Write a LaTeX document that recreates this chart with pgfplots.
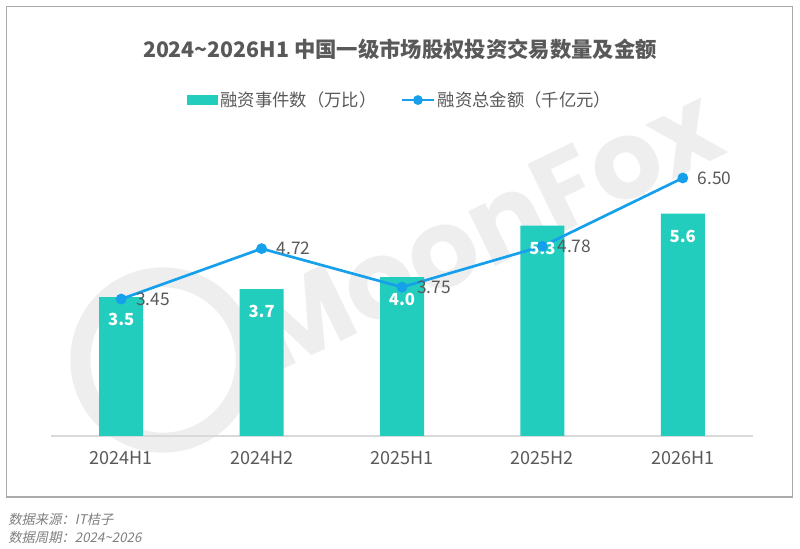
\documentclass[border=0pt]{standalone}
\usepackage{fontspec}
\setmainfont{Noto Sans CJK SC}
\newfontfamily\srcfont{Noto Sans CJK SC}[FakeSlant=0.2]
\newfontfamily\wmfont{Poppins}
\usepackage{pgfplots}
\pgfplotsset{compat=1.18}
\definecolor{barc}{RGB}{34,205,190}
\definecolor{linec}{RGB}{22,160,236}
\definecolor{txt}{RGB}{89,89,89}
\definecolor{axc}{RGB}{217,217,217}
\definecolor{framec}{RGB}{170,170,170}
\definecolor{srcc}{RGB}{127,127,127}
\definecolor{wmc}{RGB}{190,190,190}
\begin{document}
\begin{tikzpicture}[x=0.75pt,y=0.75pt]
\useasboundingbox (0,0) rectangle (800,549);
\fill[white] (0,0) rectangle (800,549);
\draw[framec, line width=0.9pt] (6.5,52) rectangle (792.5,542.5);
\begin{scope}[opacity=0.25]
\node[rotate=26, font=\wmfont\bfseries\fontsize{82}{82}\selectfont, text=wmc] at (485,320) {MoonFox};
\draw[wmc, line width=15pt] (163,189) circle (62pt);
\end{scope}
\node[font=\bfseries\fontsize{16}{19}\selectfont, text=txt] at (400,500) {2024\symbol{126}2026H1 中国一级市场股权投资交易数量及金额};
\begin{axis}[
  at={(38.25pt,84.75pt)}, anchor=south west,
  scale only axis, width=526.5pt, height=208.4pt,
  xmin=-0.5, xmax=4.5, ymin=0, ymax=7,
  axis y line=none, axis x line=bottom,
  x axis line style={-, draw=axc, line width=0.9pt},
  xtick={0,1,2,3,4},
  xticklabels={2024H1,2024H2,2025H1,2025H2,2026H1},
  xtick style={draw=none},
  extra x ticks={-0.5,0.5,1.5,2.5,3.5,4.5},
  extra x tick labels={},
  extra x tick style={major tick length=4.5pt, tick align=outside, tick style={draw=axc, line width=0.9pt}},
  xticklabel style={font=\fontsize{13.5}{16}\selectfont, text=txt, anchor=center, yshift=-14.5pt},
  /pgf/number format/assume math mode=true,
  clip=false,
  legend style={at={(0.498,1.209)}, anchor=center, draw=none, fill=none,
    font=\fontsize{13}{15}\selectfont, text=txt,
    /tikz/every even column/.append style={column sep=16pt}},
  legend columns=2,
]
\addplot[ybar, bar width=33pt, fill=barc, draw=none,
  nodes near coords={\pgfmathprintnumber[fixed,fixed zerofill,precision=1]{\pgfplotspointmeta}},
  every node near coord/.append style={font=\bfseries\fontsize{12.5}{15}\selectfont, text=white, anchor=center, yshift=-17pt},
  legend image code/.code={\fill[barc] (0pt,-3.5pt) rectangle (23pt,3.5pt);}]
  coordinates {(0,3.5) (1,3.7) (2,4.0) (3,5.3) (4,5.6)};
\addlegendentry{融资事件数（万比）}
\addplot[sharp plot, color=linec, line width=2pt, mark=*, mark size=3pt,
  mark options={fill=linec, draw=linec},
  nodes near coords={\pgfmathprintnumber[fixed,fixed zerofill,precision=2]{\pgfplotspointmeta}},
  every node near coord/.append style={anchor=west, xshift=7pt, text=txt, font=\fontsize{13}{15}\selectfont},
  legend image code/.code={\draw[linec, line width=2pt] (0pt,0pt) -- (24pt,0pt); \fill[linec] (12pt,0pt) circle (2.6pt);}]
  coordinates {(0,3.45) (1,4.72) (2,3.75) (3,4.78) (4,6.50)};
\addlegendentry{融资总金额（千亿元）}
\end{axis}
\node[anchor=west, font=\srcfont\fontsize{10}{12}\selectfont, text=srcc, inner sep=0pt] at (8,30) {数据来源：IT桔子};
\node[anchor=west, font=\srcfont\fontsize{10}{12}\selectfont, text=srcc, inner sep=0pt] at (8,12) {数据周期：2024\symbol{126}2026};
\end{tikzpicture}
\end{document}
